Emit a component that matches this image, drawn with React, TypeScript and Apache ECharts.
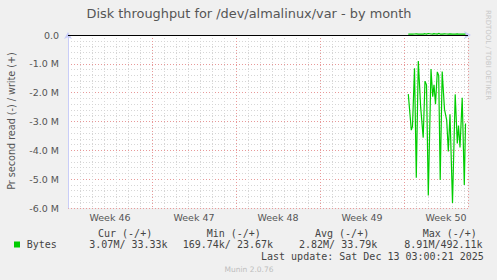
import React, { useEffect, useRef } from "react";
import * as echarts from "echarts";

// ---- data (x = days since Mon Nov 10 00:00) ----
const weekLabels = ["Week 46", "Week 47", "Week 48", "Week 49", "Week 50"];
const weekCenters = [3.5, 10.5, 17.5, 24.5, 31.5];
const readDays = [
  28.358, 28.608, 28.708, 28.875, 29.025, 29.192, 29.392, 29.6, 29.75, 29.875,
  30.025, 30.25, 30.392, 30.5, 30.625, 30.775, 30.892, 31.017, 31.183, 31.375,
  31.558, 31.692, 31.833, 32.042, 32.267, 32.442, 32.542, 32.667, 32.85, 33.025,
  33.125,
];
// read throughput in MB/s (plotted negative)
const readM = [
  2.05, 3.3, 3.17, 1.15, 4.95, 0.9, 2.52, 3.56, 1.6, 1.73,
  5.57, 1.18, 2.14, 1.73, 2.4, 1.28, 1.4, 5.03, 1.27, 2.58,
  2.95, 4.04, 2.75, 5.83, 2.06, 3.76, 3.14, 3.9, 2.18, 5.2,
  3.07,
];
// write throughput in kB/s (plotted positive)
const writeK = [
  33, 30, 28, 35, 40, 31, 29, 33, 45, 30,
  52, 34, 31, 48, 36, 30, 55, 33, 29, 41,
  35, 30, 38, 33, 31, 36, 33, 30, 34, 33,
  33.33,
];
const legendHeaders = ["Cur (-/+)", "Min (-/+)", "Avg (-/+)", "Max (-/+)"];
const legendValues = ["3.07M/ 33.33k", "169.74k/ 23.67k", "2.82M/ 33.79k", "8.91M/492.11k"];
const seriesName = "Bytes";
const titleText = "Disk throughput for /dev/almalinux/var - by month";
const yTitle = "Pr second read (-) / write (+)";
const lastUpdate = "Last update: Sat Dec 13 03:00:21 2025";
const footer = "Munin 2.0.76";
const sideText = "RRDTOOL / TOBI OETIKER";

const GREEN = "#00CC00";
const AXIS = "#C9CDF8";
const MAJOR = "rgba(255,80,80,0.45)";
const MINOR = "#d6d6d6";
const SANS = '"DejaVu Sans", sans-serif';
const MONO = '"DejaVu Sans Mono", monospace';

function txt(text: string, x: number, y: number, size: number, fill: string, align = "left", family = SANS, rotation = 0) {
  return {
    type: "text",
    x,
    y,
    rotation,
    silent: true,
    style: {
      text,
      x: 0,
      y: 0,
      fill,
      font: `${size}px ${family}`,
      align,
      textAlign: align,
      verticalAlign: "middle",
      textVerticalAlign: "middle",
    },
  };
}

export default function App() {
  const ref = useRef<HTMLDivElement>(null);
  useEffect(() => {
    if (!ref.current) return;
    const chart = echarts.init(ref.current, undefined, { renderer: "svg" });
    const xMax = 400 / 12;
    const baseX = {
      type: "value",
      position: "bottom",
      min: 0,
      max: xMax,
      axisLabel: { show: false },
      axisTick: { show: false },
      axisLine: { show: false },
    };
    const headerX = [98, 206.7, 315, 422.7];
    const valueX = [89.3, 182.7, 299, 404.3];
    const graphics: any[] = [
      txt(titleText, 249, 13.5, 12.9, "#555", "center"),
      txt(yTitle, 11.5, 121, 9.6, "#555", "center", SANS, Math.PI / 2),
      txt(sideText, 487.5, 55, 7, "#c8c8c8", "center", SANS, -Math.PI / 2),
      ...legendHeaders.map((h, i) => txt(h, headerX[i], 233, 10, "#444", "left", MONO)),
      {
        type: "rect",
        shape: { x: 14, y: 241.5, width: 6, height: 6 },
        style: { fill: GREEN },
        silent: true,
      },
      txt(seriesName, 26.7, 244.5, 10, "#444", "left", MONO),
      ...legendValues.map((v, i) => txt(v, valueX[i], 244.5, 10, "#444", "left", MONO)),
      txt(lastUpdate, 261, 256.5, 10, "#444", "left", MONO),
      txt(footer, 249, 269.5, 7.5, "#bdbdbd", "center", SANS),
    ];
    chart.setOption({
      animation: false,
      backgroundColor: "#F0F0F0",
      grid: {
        left: 68,
        top: 35,
        width: 400,
        height: 173,
        show: true,
        backgroundColor: "#ffffff",
        borderWidth: 0,
        containLabel: false,
      },
      xAxis: [
        {
          ...baseX,
          interval: 1,
          splitLine: { show: true, lineStyle: { color: MINOR, type: [1, 2], width: 1 } },
          axisLine: { show: true, lineStyle: { color: AXIS, width: 1 }, symbol: ["none", "arrow"], symbolSize: [6, 7], symbolOffset: [0, 3] },
        },
        {
          ...baseX,
          interval: 7,
          splitLine: { show: true, lineStyle: { color: MAJOR, type: [1, 2], width: 1 } },
        },
        {
          ...baseX,
          axisLabel: {
            show: true,
            customValues: weekCenters,
            formatter: (v: number) => weekLabels[Math.round((v - 3.5) / 7)] ?? "",
            color: "#555",
            fontSize: 9.5,
            fontFamily: SANS,
            margin: 4,
          },
          splitLine: { show: false },
        },
      ],
      yAxis: [
        {
          type: "value",
          position: "left",
          min: -6e6,
          max: 0,
          interval: 2e5,
          axisLabel: { show: false },
          axisTick: { show: false },
          axisLine: { show: false },
          splitLine: { show: true, lineStyle: { color: MINOR, type: [1, 2], width: 1 } },
        },
        {
          type: "value",
          position: "left",
          min: -6e6,
          max: 0,
          interval: 1e6,
          axisTick: { show: false },
          axisLine: { show: true, lineStyle: { color: AXIS, width: 1 }, symbol: ["none", "arrow"], symbolSize: [6, 7], symbolOffset: [0, 3] },
          splitLine: { show: true, lineStyle: { color: MAJOR, type: [1, 2], width: 1 } },
          axisLabel: {
            color: "#555",
            fontSize: 9.5,
            fontFamily: SANS,
            margin: 9,
            formatter: (v: number) => (v === 0 ? "0.0" : (v / 1e6).toFixed(1) + " M"),
          },
        },
      ],
      series: [
        {
          name: "read",
          type: "line",
          xAxisIndex: 0,
          yAxisIndex: 1,
          data: readDays.map((d, i) => [d, -readM[i] * 1e6]),
          showSymbol: false,
          symbol: "none",
          lineStyle: { color: GREEN, width: 1.2 },
          itemStyle: { color: GREEN },
          z: 3,
          markLine: {
            silent: true,
            symbol: "none",
            label: { show: false },
            lineStyle: { color: "#000", width: 1, type: "solid" },
            data: [{ yAxis: 0 }],
          },
        },
        {
          name: "write",
          type: "line",
          xAxisIndex: 0,
          yAxisIndex: 1,
          clip: false,
          data: readDays.map((d, i) => [d, writeK[i] * 1e3]),
          showSymbol: false,
          symbol: "none",
          lineStyle: { color: GREEN, width: 1.2 },
          itemStyle: { color: GREEN },
          z: 4,
        },
      ],
      graphic: graphics,
    });
    return () => chart.dispose();
  }, []);
  return <div ref={ref} style={{ position: "fixed", left: 0, top: 0, width: 497, height: 280 }} />;
}
